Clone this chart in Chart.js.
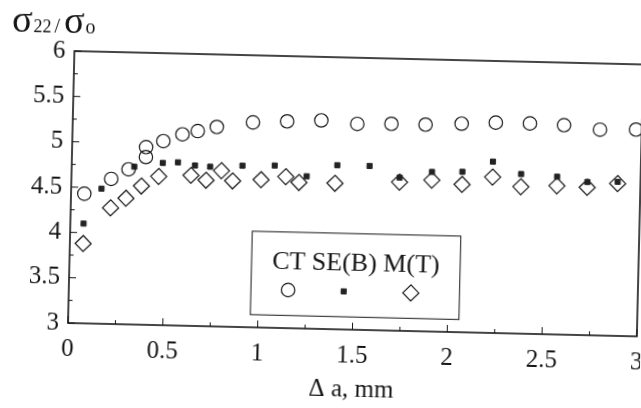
<!DOCTYPE html>
<html>
<head>
<meta charset="utf-8">
<script src="https://cdn.jsdelivr.net/npm/chart.js@4.4.1/dist/chart.umd.min.js"></script>
<style>
  html, body { margin: 0; padding: 0; background: #fff; overflow: hidden; width: 641px; height: 408px; }
  /* the scanned figure sits slightly askew */
  #chart { display: block; transform: rotate(1.35deg); transform-origin: 68px 323px; }
</style>
</head>
<body>
<canvas id="chart" width="641" height="408"></canvas>
<script>
const seriesLabels = ['CT', 'SE(B)', 'M(T)'];

const ctX = [0.07, 0.21, 0.30, 0.39, 0.39, 0.48, 0.58, 0.66, 0.76, 0.95, 1.13, 1.31, 1.50, 1.68, 1.86, 2.05, 2.23, 2.41, 2.59, 2.78, 2.97];
const ctY = [4.43, 4.60, 4.71, 4.85, 4.96, 5.03, 5.11, 5.15, 5.20, 5.26, 5.28, 5.30, 5.27, 5.28, 5.28, 5.30, 5.32, 5.32, 5.31, 5.27, 5.28];

const seX = [0.07, 0.16, 0.33, 0.48, 0.56, 0.65, 0.73, 0.90, 1.07, 1.24, 1.40, 1.57, 1.73, 1.90, 2.06, 2.22, 2.37, 2.56, 2.72, 2.88];
const seY = [4.10, 4.49, 4.74, 4.79, 4.80, 4.77, 4.76, 4.78, 4.79, 4.68, 4.81, 4.81, 4.69, 4.76, 4.77, 4.89, 4.76, 4.74, 4.69, 4.70];

const mtX = [0.07, 0.21, 0.29, 0.37, 0.46, 0.63, 0.71, 0.79, 0.85, 1.00, 1.13, 1.20, 1.39, 1.73, 1.90, 2.06, 2.22, 2.37, 2.56, 2.72, 2.88];
const mtY = [3.88, 4.28, 4.39, 4.53, 4.64, 4.66, 4.61, 4.72, 4.61, 4.63, 4.67, 4.61, 4.61, 4.64, 4.67, 4.63, 4.72, 4.62, 4.64, 4.63, 4.68];

const xTickValues = [0, 0.5, 1, 1.5, 2, 2.5, 3];
const yTickValues = [3, 3.5, 4, 4.5, 5, 5.5, 6];
const xTitle = 'Δ a, mm';

const serif = '"Liberation Serif", "DejaVu Serif", serif';
const ink = '#161616';

function toPoints(xs, ys) {
  return xs.map((x, i) => ({ x: x, y: ys[i] }));
}

// box frame, inward ticks, the boxed legend and the sigma ratio label
const figureExtras = {
  id: 'figureExtras',
  afterDraw(chart) {
    const { ctx, chartArea: a } = chart;
    const xs = chart.scales.x, ys = chart.scales.y;
    ctx.save();
    ctx.strokeStyle = ink;
    ctx.lineWidth = 1.6;
    ctx.strokeRect(a.left, a.top, a.right - a.left, a.bottom - a.top);

    ctx.lineWidth = 1;
    ctx.beginPath();
    xTickValues.forEach((v, i) => {
      const px = xs.getPixelForValue(v);
      ctx.moveTo(px, a.bottom);
      ctx.lineTo(px, a.bottom - 7);
      if (i > 0) {
        const mx = xs.getPixelForValue((v + xTickValues[i - 1]) / 2);
        ctx.moveTo(mx, a.bottom);
        ctx.lineTo(mx, a.bottom - 4);
      }
    });
    yTickValues.forEach((v, i) => {
      const py = ys.getPixelForValue(v);
      ctx.moveTo(a.left, py);
      ctx.lineTo(a.left + 7, py);
      if (i > 0) {
        const my = ys.getPixelForValue((v + yTickValues[i - 1]) / 2);
        ctx.moveTo(a.left, my);
        ctx.lineTo(a.left + 4, my);
      }
    });
    ctx.stroke();

    // legend box
    const bl = xs.getPixelForValue(0.96), br = xs.getPixelForValue(2.06);
    const bt = ys.getPixelForValue(4.06), bb = ys.getPixelForValue(3.14);
    ctx.lineWidth = 1;
    ctx.strokeRect(bl, bt, br - bl, bb - bt);

    ctx.font = '26px ' + serif;
    ctx.textBaseline = 'middle';
    ctx.textAlign = 'left';
    const gap = ctx.measureText(' ').width;
    const widths = seriesLabels.map(t => ctx.measureText(t).width);
    const total = widths.reduce((s, w) => s + w, 0) + gap * (widths.length - 1);
    let tx = (bl + br) / 2 - total / 2;
    chart.data.datasets.forEach((ds, i) => {
      ctx.fillStyle = ink;
      ctx.fillText(ds.label, tx, bt + 30);
      const cx = tx + widths[i] / 2;
      ctx.fillStyle = ds.backgroundColor;
      ctx.strokeStyle = ds.borderColor;
      ctx.lineWidth = ds.borderWidth;
      Chart.helpers.drawPoint(ctx, {
        pointStyle: ds.pointStyle,
        radius: ds.pointRadius,
        borderWidth: ds.borderWidth,
        rotation: 0
      }, cx, bt + 58);
      tx += widths[i] + gap;
    });

    // axis quantity: sigma22 / sigma0
    const parts = [['σ', 38, 0], ['22', 18, 1], ['/', 20, 3], ['σ', 38, 4], ['o', 20, 1]];
    ctx.fillStyle = ink;
    ctx.textBaseline = 'alphabetic';
    let px = 5;
    parts.forEach(([t, size, pad]) => {
      px += pad;
      ctx.font = size + 'px ' + serif;
      ctx.fillText(t, px, 33);
      px += ctx.measureText(t).width;
    });
    ctx.restore();
  }
};

new Chart(document.getElementById('chart'), {
  type: 'scatter',
  data: {
    datasets: [
      {
        label: seriesLabels[0],
        data: toPoints(ctX, ctY),
        pointStyle: 'circle',
        pointRadius: 6.7,
        backgroundColor: 'rgba(0,0,0,0)',
        borderColor: ink,
        borderWidth: 1.2
      },
      {
        label: seriesLabels[1],
        data: toPoints(seX, seY),
        pointStyle: 'rect',
        pointRadius: 3.6,
        backgroundColor: '#222',
        borderColor: '#222',
        borderWidth: 1
      },
      {
        label: seriesLabels[2],
        data: toPoints(mtX, mtY),
        pointStyle: 'rectRot',
        pointRadius: 8,
        backgroundColor: 'rgba(0,0,0,0)',
        borderColor: ink,
        borderWidth: 1.2
      }
    ]
  },
  options: {
    responsive: false,
    animation: false,
    devicePixelRatio: 1,
    layout: { autoPadding: false, padding: { top: 51, right: 4, left: 0, bottom: 0 } },
    plugins: { legend: { display: false }, tooltip: { enabled: false } },
    scales: {
      x: {
        type: 'linear',
        min: 0,
        max: 3,
        afterBuildTicks: s => { s.ticks = xTickValues.map(v => ({ value: v })); },
        afterFit: s => { s.height = 85; s.paddingLeft = 0; s.paddingRight = 0; },
        grid: { display: false, drawTicks: false },
        border: { display: false },
        ticks: { font: { family: serif, size: 25 }, color: ink, padding: 11, maxRotation: 0, autoSkip: false, callback: v => String(v) },
        title: { display: true, text: xTitle, font: { family: serif, size: 25 }, color: ink, padding: { top: 0, bottom: 10 } }
      },
      y: {
        type: 'linear',
        min: 3,
        max: 6,
        afterBuildTicks: s => { s.ticks = yTickValues.map(v => ({ value: v })); },
        afterFit: s => { s.width = 68; s.paddingTop = 0; s.paddingBottom = 0; },
        grid: { display: false, drawTicks: false },
        border: { display: false },
        ticks: { font: { family: serif, size: 25 }, color: ink, padding: 9, autoSkip: false, callback: v => String(v) }
      }
    }
  },
  plugins: [figureExtras]
});
</script>
</body>
</html>
